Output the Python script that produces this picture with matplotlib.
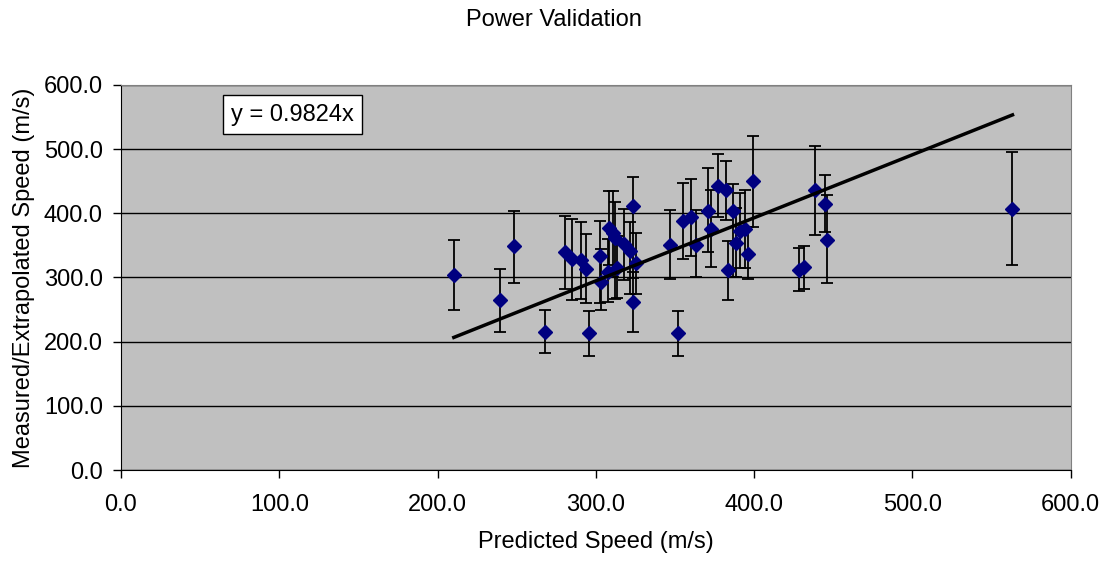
import numpy as np
import matplotlib.pyplot as plt

plt.rcParams['font.family'] = ['Liberation Sans', 'DejaVu Sans']

# predicted speed (m/s)
predicted = [210.3, 239.4, 248.5, 267.7, 280.8, 284.8, 290.9, 293.9, 295.8, 302.5,
             303.2, 308.0, 308.5, 310.6, 312.2, 313.1, 318.0, 321.7, 323.2, 323.2,
             325.7, 347.0, 352.1, 354.9, 360.1, 363.3, 371.1, 373.1, 377.3, 382.4,
             383.4, 386.4, 388.3, 391.0, 394.2, 396.1, 399.5, 428.5, 431.6, 438.4,
             444.7, 445.8, 563.3]
# measured / extrapolated speed (m/s)
measured = [304, 265, 349, 215, 339, 329, 327, 314, 213, 334,
            293, 309, 377, 369, 361, 315, 352, 342, 412, 262,
            323, 351, 213, 388, 394, 351, 404, 376, 443, 436,
            312, 404, 354, 373, 376, 336, 451, 312, 317, 436,
            415, 358, 406]
# upper and lower ends of the error bars
upper = [358, 314, 403, 250, 396, 391, 386, 368, 247, 388,
         345, 360, 434, 434, 418, 365, 406, 387, 456, 309,
         369, 405, 248, 447, 453, 405, 470, 436, 493, 481,
         357, 446, 409, 431, 436, 379, 520, 346, 349, 505,
         460, 428, 495]
lower = [249, 215, 292, 183, 282, 265, 266, 260, 178, 260,
         249, 262, 320, 300, 266, 268, 296, 275, 299, 215,
         275, 297, 178, 329, 334, 300, 339, 317, 394, 389,
         265, 300, 300, 315, 315, 297, 379, 279, 282, 366,
         371, 292, 319]
slope = 0.9824

x = np.array(predicted)
y = np.array(measured)
yerr = [y - np.array(lower), np.array(upper) - y]

fig = plt.figure(figsize=(11.07, 5.62), dpi=100)
ax = fig.add_axes([0.1093, 0.1637, 0.8578, 0.6851])
ax.set_facecolor('#c0c0c0')

ax.errorbar(x, y, yerr=yerr, fmt='none', ecolor='black', elinewidth=1.3,
            capsize=4.5, capthick=1.3, zorder=2)
ax.plot(x, y, linestyle='none', marker='D', markersize=7, color='#000080', zorder=3)

xl = np.array([x.min(), x.max()])
ax.plot(xl, slope * xl, color='black', linewidth=2.5, zorder=4)

ax.set_xlim(0, 600)
ax.set_ylim(0, 600)
ticks = np.arange(0, 601, 100)
ax.set_xticks(ticks)
ax.set_yticks(ticks)
ax.set_xticklabels(['%.1f' % v for v in ticks])
ax.set_yticklabels(['%.1f' % v for v in ticks])
ax.tick_params(labelsize=17, direction='out', length=6, width=1)
ax.tick_params(axis='x', pad=11)
ax.tick_params(axis='y', pad=7)
ax.yaxis.grid(True, color='black', linewidth=1)
ax.set_axisbelow(True)
for s in ['top', 'right']:
    ax.spines[s].set_color('#808080')
    ax.spines[s].set_linewidth(0.8)

ax.set_xlabel('Predicted Speed (m/s)', fontsize=17, labelpad=11)
ax.set_ylabel('Measured/Extrapolated Speed (m/s)', fontsize=17, labelpad=6)
fig.text(0.5, 0.964, 'Power Validation', ha='center', va='center', fontsize=17)

ax.text(0.1806, 0.923, 'y = %.4fx' % slope, transform=ax.transAxes, fontsize=17,
        ha='center', va='center',
        bbox=dict(facecolor='white', edgecolor='black', linewidth=1, pad=6))

plt.savefig('out.png', dpi=100)
